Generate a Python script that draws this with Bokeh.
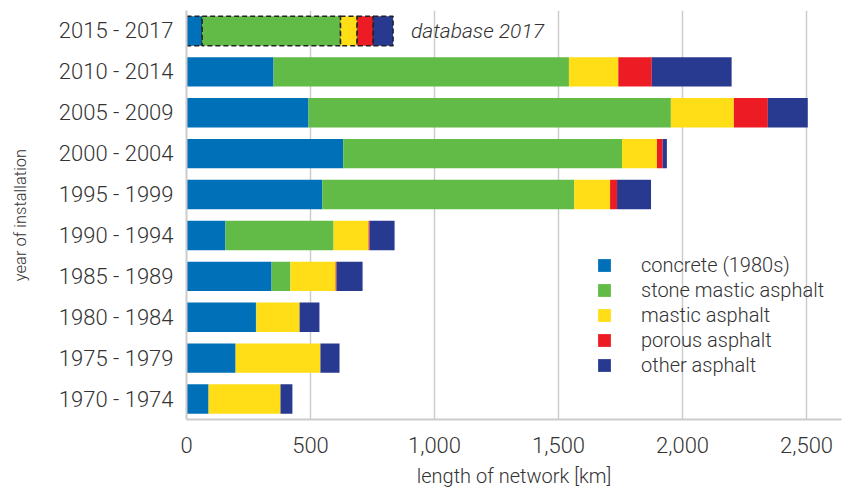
from bokeh.plotting import figure
from bokeh.models import ColumnDataSource, Range1d, FactorRange, FixedTicker, NumeralTickFormatter, Legend, LegendItem
from bokeh.core.properties import value
from bokeh.embed import file_html
from bokeh.resources import INLINE

periods = ["1970 - 1974", "1975 - 1979", "1980 - 1984", "1985 - 1989", "1990 - 1994",
           "1995 - 1999", "2000 - 2004", "2005 - 2009", "2010 - 2014", "2015 - 2017"]
concrete = [89, 198, 280, 343, 157, 547, 632, 492, 351, 63]
stone_mastic = [0, 0, 2, 76, 436, 1016, 1124, 1461, 1191, 558]
mastic = [290, 342, 174, 182, 141, 145, 141, 254, 199, 67]
porous = [0, 0, 0, 4, 4, 28, 23, 137, 135, 65]
other = [48, 77, 80, 105, 101, 137, 17, 161, 322, 80]

series_keys = ["concrete", "stone_mastic", "mastic", "porous", "other"]
series_labels = ["concrete (1980s)", "stone mastic asphalt", "mastic asphalt", "porous asphalt", "other asphalt"]
colors = ["#0070B8", "#62BB47", "#FFDE17", "#ED1C24", "#283990"]
x_ticks = [0, 500, 1000, 1500, 2000, 2500]
note_text = "database 2017"
note_x = 905

FONT = "Roboto Light"
TXT = "#333333"

data = dict(periods=periods, concrete=concrete, stone_mastic=stone_mastic,
            mastic=mastic, porous=porous, other=other)
n = len(periods)
main = ColumnDataSource({k: v[:n - 1] for k, v in data.items()})
latest = ColumnDataSource({k: v[n - 1:] for k, v in data.items()})

p = figure(width=843, height=490, y_range=FactorRange(*periods, range_padding=0),
           x_range=Range1d(0, 2641), output_backend="svg", toolbar_location=None,
           min_border_left=186, min_border_right=2, min_border_top=10, min_border_bottom=70)
p.outline_line_color = None
p.background_fill_color = "white"

r_main = p.hbar_stack(series_keys, y="periods", height=0.72, color=colors, source=main, line_color=None)
p.hbar_stack(series_keys, y="periods", height=0.72, fill_color=colors, source=latest,
             line_color="#222222", line_width=1.5, line_dash="5 3")

p.text(x=[note_x], y=[periods[-1]], text=[note_text], text_font=value(FONT),
       text_font_style="italic", text_font_size="21px", text_color=TXT,
       text_baseline="middle", text_align="left")

p.xaxis.ticker = FixedTicker(ticks=x_ticks)
p.xaxis.formatter = NumeralTickFormatter(format="0,0")
p.xgrid.ticker = FixedTicker(ticks=x_ticks[1:])
p.xgrid.grid_line_color = "#cccccc"
p.xgrid.grid_line_width = 1.5
p.ygrid.grid_line_color = None

for ax in (p.xaxis[0], p.yaxis[0]):
    ax.axis_line_color = "#cccccc"
    ax.axis_line_width = 2
    ax.major_tick_line_color = None
    ax.minor_tick_line_color = None
    ax.major_label_text_font = FONT
    ax.major_label_text_font_size = "22px"
    ax.major_label_text_color = TXT
    ax.axis_label_text_font = FONT
    ax.axis_label_text_font_style = "normal"
    ax.axis_label_text_color = TXT

p.xaxis.axis_label = "length of network [km]"
p.yaxis.axis_label = "year of installation"
p.xaxis.axis_label_text_font_size = "20px"
p.yaxis.axis_label_text_font_size = "16.5px"
p.xaxis.major_label_standoff = 11
p.xaxis.axis_label_standoff = 8
p.yaxis.major_label_standoff = 7
p.yaxis.axis_label_standoff = 26

items = [LegendItem(label=lab, renderers=[r]) for lab, r in zip(series_labels, r_main)]
legend = Legend(items=items, location=(410, 42), padding=0, margin=0,
                glyph_width=16, glyph_height=16, label_height=16, spacing=1,
                label_standoff=29, label_text_font=FONT, label_text_font_size="20px",
                label_text_color=TXT, border_line_color=None, background_fill_alpha=0)
p.add_layout(legend, "center")

open("out.html", "w").write(file_html(p, INLINE))
